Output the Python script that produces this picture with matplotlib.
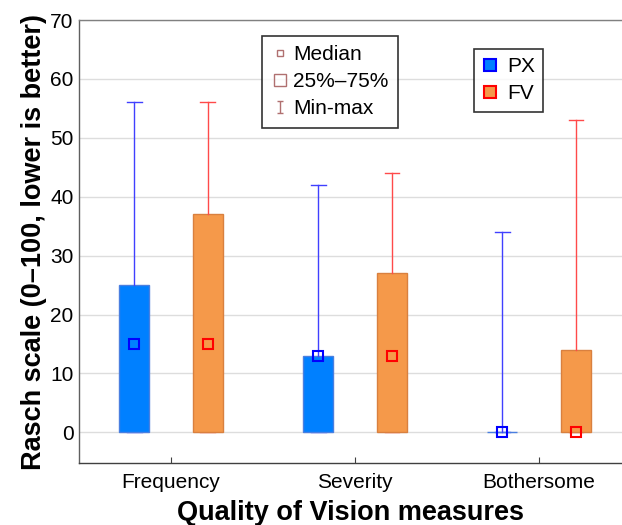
import matplotlib
matplotlib.use("Agg")
import matplotlib.pyplot as plt
from matplotlib.lines import Line2D
from matplotlib.path import Path
import numpy as np

plt.rcParams['font.family'] = ['Liberation Sans', 'DejaVu Sans']

categories = ["Frequency", "Severity", "Bothersome"]
groups = ["PX", "FV"]

# min, q1, median, q3, max  per category
px_min = [0, 0, 0]
px_q1 = [0, 0, 0]
px_med = [15, 13, 0]
px_q3 = [25, 13, 0]
px_max = [56, 42, 34]

fv_min = [0, 0, 0]
fv_q1 = [0, 0, 0]
fv_med = [15, 13, 0]
fv_q3 = [37, 27, 14]
fv_max = [56, 44, 53]

box_face = {"PX": "#0080ff", "FV": "#f5994a"}
box_edge = {"PX": "#4a7fe0", "FV": "#d9803f"}
line_col = {"PX": "#4040ff", "FV": "#ff4a4a"}
med_col = {"PX": "#0000ff", "FV": "#ff0000"}

fig = plt.figure(figsize=(6.22, 5.25), dpi=100)
ax = fig.add_axes([79 / 622, 62 / 525, 543 / 622, 443 / 525])

x = np.arange(len(categories))
offset = 0.2
width = 0.163
cap = 0.08

series = {
    "PX": (px_min, px_q1, px_med, px_q3, px_max),
    "FV": (fv_min, fv_q1, fv_med, fv_q3, fv_max),
}

for k, g in enumerate(groups):
    mn, q1, md, q3, mx = series[g]
    xs = x + (-offset if k == 0 else offset)
    heights = np.array(q3) - np.array(q1)
    ax.bar(xs, heights, bottom=q1, width=width, color=box_face[g],
           edgecolor=box_edge[g], linewidth=1.0, zorder=2)
    for xi, lo, b, t, hi in zip(xs, mn, q1, q3, mx):
        ax.plot([xi, xi], [t, hi], color=line_col[g], lw=1.0, zorder=3)
        ax.plot([xi - cap / 2, xi + cap / 2], [hi, hi], color=line_col[g], lw=1.0, zorder=3)
        # lower whisker sits under the box
        ax.plot([xi, xi], [lo, b], color=line_col[g], lw=1.0, zorder=1.5)
        ax.plot([xi - cap / 2, xi + cap / 2], [lo, lo], color=line_col[g], lw=1.0, zorder=1.5)
    ax.plot(xs, md, linestyle="none", marker="s", markersize=7.5,
            markerfacecolor="none", markeredgecolor=med_col[g],
            markeredgewidth=1.5, zorder=4)

ax.set_xlim(-0.5, 2.45)
ax.set_ylim(-5.2, 70)
ax.set_yticks(range(0, 71, 10))
ax.set_xticks(x)
ax.set_xticklabels(categories)
ax.tick_params(axis="y", length=0, pad=4, labelsize=15)
ax.tick_params(axis="x", direction="in", length=4, pad=7, labelsize=15,
               color="#404040")
ax.yaxis.grid(True, color="#dddddd", lw=1.0, zorder=0)
ax.set_axisbelow(True)

ax.spines["right"].set_visible(False)
ax.spines["left"].set_color("#606060")
ax.spines["top"].set_color("#808080")
ax.spines["bottom"].set_color("#404040")
for s in ["left", "top", "bottom"]:
    ax.spines[s].set_linewidth(1.0)

ax.set_ylabel("Rasch scale (0–100, lower is better)", fontsize=19.5,
              fontweight="bold", labelpad=2)
ax.set_xlabel("Quality of Vision measures", fontsize=19.5,
              fontweight="bold", labelpad=6)

# legend 1: statistic symbols
ibeam = Path([(-0.5, -1), (0.5, -1), (0, -1), (0, 1), (-0.5, 1), (0.5, 1)],
             [Path.MOVETO, Path.LINETO, Path.MOVETO, Path.LINETO,
              Path.MOVETO, Path.LINETO])
leg_col = "#b07070"
h1 = [
    Line2D([], [], linestyle="none", marker="s", markersize=4.5,
           markerfacecolor="none", markeredgecolor=leg_col, markeredgewidth=1.0),
    Line2D([], [], linestyle="none", marker="s", markersize=8,
           markerfacecolor="none", markeredgecolor=leg_col, markeredgewidth=1.0),
    Line2D([], [], linestyle="none", marker=ibeam, markersize=9,
           markerfacecolor="none", markeredgecolor=leg_col, markeredgewidth=1.0),
]
leg1 = ax.legend(h1, ["Median", "25%–75%", "Min-max"], loc="upper left",
                 bbox_to_anchor=(0.337, 0.964), borderaxespad=0, fontsize=15,
                 frameon=True, fancybox=False, edgecolor="black",
                 handlelength=0.8, handletextpad=0.25, labelspacing=0.38,
                 borderpad=0.45)
leg1.get_frame().set_linewidth(1.2)
ax.add_artist(leg1)

h2 = [
    Line2D([], [], linestyle="none", marker="s", markersize=9,
           markerfacecolor=box_face["PX"], markeredgecolor="#0000ff",
           markeredgewidth=1.5),
    Line2D([], [], linestyle="none", marker="s", markersize=9,
           markerfacecolor=box_face["FV"], markeredgecolor="#ff0000",
           markeredgewidth=1.5),
]
leg2 = ax.legend(h2, groups, loc="upper left", bbox_to_anchor=(0.727, 0.935),
                 borderaxespad=0, fontsize=15, frameon=True, fancybox=False,
                 edgecolor="black", handlelength=0.8, handletextpad=0.4,
                 labelspacing=0.4, borderpad=0.4)
leg2.get_frame().set_linewidth(1.2)

fig.savefig("out.png", dpi=100)
